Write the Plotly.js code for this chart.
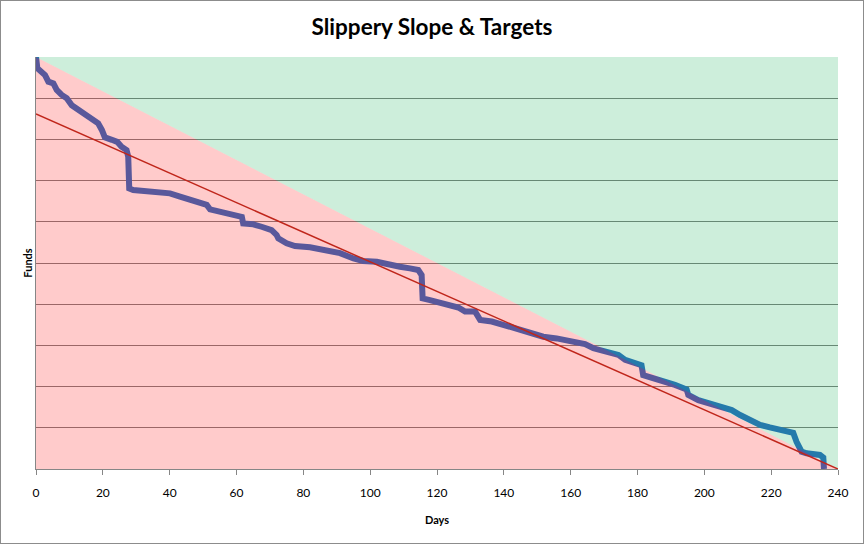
<!DOCTYPE html>
<html>
<head>
<meta charset="utf-8">
<script src="https://cdn.plot.ly/plotly-3.0.1.min.js"></script>
<style>
html,body{margin:0;padding:0;background:#fff;}
#wrap{position:relative;width:864px;height:544px;}
#chart{width:864px;height:544px;}
#frame{position:absolute;left:0;top:0;width:862px;height:542px;border:1px solid #8c8c8c;pointer-events:none;}
</style>
</head>
<body>
<div id="wrap"><div id="chart"></div><div id="frame"></div></div>
<script>
// Actual funds (days, funds)
var fundsDays = [0,0.4,2.7,3.7,5.2,6.2,7.7,9.2,10.7,12.7,14.7,16.7,18.6,19.7,20.6,22.7,24.3,25.6,27.1,27.6,27.9,29.1,35.1,40.1,43.1,46.1,49.1,51.1,52.1,55.1,56.6,59.0,61.6,62.0,65.0,67.5,70.5,72.0,72.5,75.0,77.5,82.0,87.0,91.0,95.0,97.9,102.0,104.9,108.9,111.9,114.4,115.4,115.7,117.9,120.9,122.9,126.4,128.4,131.4,132.9,136.4,139.8,144.3,147.3,151.8,155.8,160.8,164.3,166.8,170.8,174.3,176.3,178.7,181.2,181.7,185.2,188.7,191.2,194.7,195.2,198.2,201.7,204.7,208.2,210.7,213.7,216.7,219.6,222.6,223.6,226.6,227.6,229.1,230.6,234.6,235.6,235.8];
var fundsValues = [100,97.3,95.6,94.0,93.6,92.0,90.8,90.0,88.3,87.1,85.9,84.7,83.9,82.3,80.5,79.9,79.4,78.2,77.4,75.8,68.1,67.7,67.3,66.9,66.1,65.3,64.5,64.1,63.0,62.5,62.1,61.9,61.2,59.6,59.4,58.8,58.0,56.8,56.0,54.8,54.1,53.8,53.2,52.4,51.1,50.5,50.3,49.7,49.1,48.7,48.3,47.1,41.4,41.0,40.4,39.8,39.2,38.2,38.2,36.2,35.8,35.0,33.9,32.9,32.1,31.7,30.9,30.3,29.3,28.5,27.7,26.5,25.8,25.2,22.8,22.0,21.2,20.4,19.3,18.0,16.7,15.8,15.3,14.3,13.1,11.9,10.7,10.1,9.6,9.1,8.8,6.6,4.2,3.8,3.4,2.8,0];
// Slippery slope zones
var slopeDays = [0,0,240];
var slopeValues = [0,100,0];
var aboveDays = [0,240,240];
var aboveValues = [100,100,0];
// Target line
var targetDays = [0,240];
var targetValues = [86.2,0];
var xTicks = [0,20,40,60,80,100,120,140,160,180,200,220,240];

var traces = [
  {x: fundsDays, y: fundsValues, type:'scatter', mode:'lines',
   line:{color:'rgb(45,110,195)', width:6}, hoverinfo:'x+y'},
  {x: slopeDays, y: slopeValues, type:'scatter', mode:'lines', fill:'toself',
   fillcolor:'rgba(255,10,10,0.21)', line:{width:0}, hoverinfo:'skip'},
  {x: aboveDays, y: aboveValues, type:'scatter', mode:'lines', fill:'toself',
   fillcolor:'rgba(5,170,75,0.2)', line:{width:0}, hoverinfo:'skip'},
  {x: targetDays, y: targetValues, type:'scatter', mode:'lines',
   line:{color:'#c0261b', width:1.5}, hoverinfo:'skip'}
];

var layout = {
  width:864, height:544,
  margin:{l:36, r:26, t:57, b:75},
  paper_bgcolor:'#ffffff', plot_bgcolor:'#ffffff',
  showlegend:false,
  title:{text:'Slippery Slope & Targets', x:0.5, xanchor:'center', y:0.95, yanchor:'middle',
         font:{family:'Lato, "Open Sans", sans-serif', size:22.5, color:'#000', weight:'bold'}},
  xaxis:{range:[0,240], tickvals:xTicks, ticktext:xTicks.map(String), ticks:'outside', ticklen:5,
         ticklabelstandoff:8,
         tickcolor:'#868686', showline:true, linecolor:'#868686', linewidth:1, showgrid:false,
         zeroline:false, tickfont:{family:'"Liberation Sans Narrow", Lato, sans-serif', size:12, color:'#000'},
         title:{text:'Days', standoff:16, font:{family:'Lato, sans-serif', size:11, color:'#000', weight:'bold'}}},
  yaxis:{range:[0,100], dtick:10, showticklabels:false, ticks:'', showline:true, linecolor:'#868686',
         linewidth:1, showgrid:true, gridcolor:'#808080', gridwidth:1, zeroline:false,
         title:{text:'Funds', standoff:0, font:{family:'Lato, sans-serif', size:11, color:'#000', weight:'bold'}}}
};

Plotly.newPlot('chart', traces, layout, {displayModeBar:false, staticPlot:true});
</script>
</body>
</html>
